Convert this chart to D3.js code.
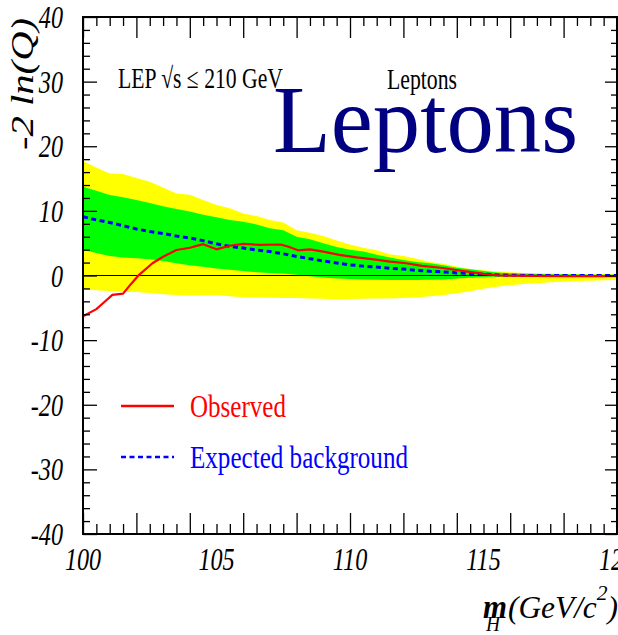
<!DOCTYPE html>
<html>
<head>
<meta charset="utf-8">
<script src="https://cdn.jsdelivr.net/npm/d3@7/dist/d3.min.js"></script>
<style>
  body { margin: 0; background: #fff; }
  svg { display: block; overflow: hidden; }
  text { font-family: "Liberation Serif", "Times New Roman", serif; }
</style>
</head>
<body>
<svg id="chart" width="618" height="635"></svg>
<script>
(function () {
  // mass points for the bands and the expected curve (GeV)
  var masses = [100, 100.5, 101, 101.5, 102, 102.5, 103, 103.5, 104, 104.5,
    105, 105.5, 106, 106.5, 107, 107.5, 108, 108.5, 109, 109.5,
    110, 110.5, 111, 111.5, 112, 112.5, 113, 113.5, 114, 114.5,
    115, 115.5, 116, 116.5, 117, 117.5, 118, 118.5, 119, 119.5, 120];

  var band2Hi = [17.7, 16.7, 15.8, 15.7, 15.1, 14.5, 13.6, 12.7, 12.5, 11.7,
    10.9, 10.4, 9.6, 9.2, 8.6, 8.2, 7.0, 6.6, 6.1, 5.4,
    4.8, 4.3, 3.9, 3.3, 3.0, 2.6, 2.1, 1.8, 1.4, 1.0,
    0.8, 0.6, 0.5, 0.4, 0.35, 0.3, 0.25, 0.25, 0.25, 0.25, 0.25];
  var band1Hi = [13.75, 13.1, 12.45, 12.1, 11.7, 11.2, 10.7, 10.3, 9.9, 9.4,
    9.0, 8.6, 8.3, 7.9, 7.3, 7.0, 6.0, 5.6, 5.0, 4.4,
    4.0, 3.7, 3.2, 2.8, 2.4, 2.1, 1.9, 1.6, 1.2, 0.95,
    0.7, 0.45, 0.35, 0.3, 0.25, 0.2, 0.2, 0.15, 0.1, 0.1, 0.1];
  var band1Lo = [3.95, 3.5, 3.0, 2.8, 2.65, 2.5, 2.25, 1.9, 1.6, 1.35,
    1.1, 0.9, 0.7, 0.5, 0.4, 0.3, 0.1, -0.1, -0.3, -0.45,
    -0.55, -0.6, -0.65, -0.7, -0.7, -0.7, -0.65, -0.6, -0.45, -0.35,
    -0.25, -0.2, -0.15, -0.1, -0.1, -0.1, -0.1, -0.1, -0.1, -0.1, -0.1];
  var band2Lo = [-2.15, -2.3, -2.4, -2.5, -2.55, -2.7, -2.9, -3.0, -3.1, -3.05,
    -3.0, -3.2, -3.35, -3.4, -3.45, -3.5, -3.5, -3.55, -3.6, -3.7,
    -3.65, -3.6, -3.55, -3.55, -3.5, -3.4, -3.2, -3.0, -2.75, -2.45,
    -2.05, -1.75, -1.5, -1.3, -1.2, -1.05, -0.95, -0.85, -0.8, -0.75, -0.7];
  var expected = [9.1, 8.6, 8.2, 7.7, 7.2, 6.8, 6.5, 6.1, 5.8, 5.4,
    4.9, 4.5, 4.25, 3.95, 3.7, 3.35, 2.95, 2.6, 2.25, 1.95,
    1.65, 1.45, 1.3, 1.1, 1.0, 0.8, 0.65, 0.55, 0.4, 0.3,
    0.2, 0.1, 0.05, 0.0, 0.0, 0.0, 0.0, 0.0, 0.0, 0.0, 0.0];

  var obsMasses = [100, 100.5, 100.8, 101.1, 101.5, 101.8, 102.1, 102.6, 103.0, 103.5,
    104.0, 104.5, 105.0, 105.5, 106.0, 106.6, 107.4, 107.7, 108.05, 108.5,
    109.0, 109.6, 110.25, 110.9, 111.5, 112.1, 112.7, 113.4, 114.4, 115.0,
    115.6, 116.9, 118.1, 120];
  var observed = [-6.3, -5.2, -4.1, -3.0, -2.8, -1.3, 0.1, 1.9, 2.9, 3.95,
    4.3, 4.85, 4.05, 4.6, 4.9, 4.75, 4.8, 4.45, 3.9, 4.05,
    3.7, 3.2, 2.8, 2.5, 2.15, 1.9, 1.5, 1.2, 0.6, 0.25,
    0.0, -0.05, -0.1, -0.1];

  var yTickLabels = [40, 30, 20, 10, 0, -10, -20, -30, -40];
  var xTickLabels = [100, 105, 110, 115, 120];
  var yMajor = [40, 30, 20, 10, 0, -10, -20, -30, -40];
  var yMinor = [38, 36, 34, 32, 28, 26, 24, 22, 18, 16, 14, 12, 8, 6, 4, 2,
    -2, -4, -6, -8, -12, -14, -16, -18, -22, -24, -26, -28, -32, -34, -36, -38];
  var xMajor = [100, 102, 104, 106, 108, 110, 112, 114, 116, 118, 120];
  var xMinor = [100.5, 101, 101.5, 102.5, 103, 103.5, 104.5, 105, 105.5,
    106.5, 107, 107.5, 108.5, 109, 109.5, 110.5, 111, 111.5, 112.5, 113, 113.5,
    114.5, 115, 115.5, 116.5, 117, 117.5, 118.5, 119, 119.5];

  var legendItems = [
    {label: 'Observed', color: '#ff0000', dash: null, width: 96},
    {label: 'Expected background', color: '#0000ff', dash: '5,3.5', width: 218}
  ];

  var left = 83, right = 617, top = 17, bottom = 534;
  var svg = d3.select('#chart');

  var x = d3.scaleLinear().domain([100, 120]).range([left, right]);
  var y = d3.scaleLinear().domain([-40, 40]).range([bottom, top]);

  var rows = masses.map(function (m, i) {
    return {m: m, h2: band2Hi[i], h1: band1Hi[i], l1: band1Lo[i], l2: band2Lo[i], e: expected[i]};
  });

  var bandArea = function (lo, hi) {
    return d3.area()
        .x(function (d) { return x(d.m); })
        .y0(function (d) { return y(d[lo]); })
        .y1(function (d) { return y(d[hi]); });
  };

  var plot = svg.append('g');
  plot.append('path').datum(rows)
      .attr('fill', '#ffff00')
      .attr('d', bandArea('l2', 'h2'));
  plot.append('path').datum(rows)
      .attr('fill', '#00ff00')
      .attr('d', bandArea('l1', 'h1'));

  // zero line
  plot.append('line')
      .attr('x1', x(100)).attr('x2', x(120))
      .attr('y1', y(0)).attr('y2', y(0))
      .attr('stroke', '#000').attr('stroke-width', 1.2);

  plot.append('path').datum(rows)
      .attr('fill', 'none')
      .attr('stroke', '#0000ff')
      .attr('stroke-width', 3)
      .attr('stroke-dasharray', '5,3.5')
      .attr('d', d3.line()
          .x(function (d) { return x(d.m); })
          .y(function (d) { return y(d.e); }));

  var obsRows = obsMasses.map(function (m, i) { return {m: m, v: observed[i]}; });
  plot.append('path').datum(obsRows)
      .attr('fill', 'none')
      .attr('stroke', '#ff0000')
      .attr('stroke-width', 2.2)
      .attr('stroke-linejoin', 'round')
      .attr('d', d3.line()
          .x(function (d) { return x(d.m); })
          .y(function (d) { return y(d.v); }));

  // ticks, all pointing inwards
  var drawAxis = function (axis, tx, ty) {
    var g = svg.append('g')
        .attr('transform', 'translate(' + tx + ',' + ty + ')')
        .call(axis);
    g.select('.domain').remove();
    g.selectAll('line').attr('stroke', '#000').attr('stroke-width', 1.3);
    g.selectAll('text').remove();
  };

  drawAxis(d3.axisBottom(x).tickValues(xMajor).tickSize(-21).tickFormat(''), 0, bottom);
  drawAxis(d3.axisBottom(x).tickValues(xMinor).tickSize(-10).tickFormat(''), 0, bottom);
  drawAxis(d3.axisTop(x).tickValues(xMajor).tickSize(-21).tickFormat(''), 0, top);
  drawAxis(d3.axisTop(x).tickValues(xMinor).tickSize(-9).tickFormat(''), 0, top);
  drawAxis(d3.axisLeft(y).tickValues(yMajor).tickSize(-14).tickFormat(''), left, 0);
  drawAxis(d3.axisLeft(y).tickValues(yMinor).tickSize(-7).tickFormat(''), left, 0);
  drawAxis(d3.axisRight(y).tickValues(yMajor).tickSize(-12).tickFormat(''), right, 0);
  drawAxis(d3.axisRight(y).tickValues(yMinor).tickSize(-6).tickFormat(''), right, 0);

  // frame
  svg.append('rect')
      .attr('x', left).attr('y', top)
      .attr('width', right - left).attr('height', bottom - top)
      .attr('fill', 'none').attr('stroke', '#000').attr('stroke-width', 2);

  // tick labels (the original is squeezed horizontally)
  svg.append('g').selectAll('text').data(yTickLabels).enter().append('text')
      .attr('transform', function (d) { return 'translate(63,' + (y(d) + 11) + ') scale(0.78,1)'; })
      .attr('text-anchor', 'end')
      .attr('font-style', 'italic')
      .attr('font-size', 31)
      .text(function (d) { return d; });

  svg.append('g').selectAll('text').data(xTickLabels).enter().append('text')
      .attr('transform', function (d) { return 'translate(' + x(d) + ',570) scale(0.78,1)'; })
      .attr('text-anchor', 'middle')
      .attr('font-style', 'italic')
      .attr('font-size', 31)
      .text(function (d) { return d; });

  // axis titles
  svg.append('text')
      .attr('transform', 'translate(33,150) rotate(-90)')
      .attr('font-style', 'italic')
      .attr('font-size', 32)
      .attr('textLength', 132)
      .attr('lengthAdjust', 'spacingAndGlyphs')
      .text('-2 ln(Q)');

  svg.append('text')
      .attr('x', 483).attr('y', 618)
      .attr('font-style', 'italic').attr('font-weight', 'bold')
      .attr('font-size', 34)
      .attr('textLength', 24)
      .attr('lengthAdjust', 'spacingAndGlyphs')
      .text('m');
  svg.append('text')
      .attr('x', 486).attr('y', 631)
      .attr('font-style', 'italic')
      .attr('font-size', 22)
      .attr('textLength', 14)
      .attr('lengthAdjust', 'spacingAndGlyphs')
      .text('H');
  var unit = svg.append('text')
      .attr('transform', 'translate(508,618) scale(0.98,1)')
      .attr('font-style', 'italic')
      .attr('font-size', 32);
  unit.append('tspan').text('(GeV/c');
  unit.append('tspan').attr('font-size', 22).attr('dy', -18).text('2');
  unit.append('tspan').attr('dy', 18).text(')');

  // labels inside the frame
  svg.append('text')
      .attr('x', 118).attr('y', 88)
      .attr('font-size', 29)
      .attr('textLength', 165)
      .attr('lengthAdjust', 'spacingAndGlyphs')
      .text('LEP \u221As \u2264 210 GeV');
  svg.append('text')
      .attr('x', 387).attr('y', 89)
      .attr('font-size', 29)
      .attr('textLength', 70)
      .attr('lengthAdjust', 'spacingAndGlyphs')
      .text('Leptons');
  svg.append('text')
      .attr('x', 273).attr('y', 152)
      .attr('font-size', 96)
      .attr('fill', '#000080')
      .attr('textLength', 305)
      .attr('lengthAdjust', 'spacingAndGlyphs')
      .text('Leptons');

  // legend
  var legend = svg.append('g').selectAll('g').data(legendItems).enter().append('g')
      .attr('transform', function (d, i) { return 'translate(0,' + (i * 51) + ')'; });
  legend.append('line')
      .attr('x1', 121).attr('x2', 174)
      .attr('y1', 406).attr('y2', 406)
      .attr('stroke', function (d) { return d.color; })
      .attr('stroke-width', 2.5)
      .attr('stroke-dasharray', function (d) { return d.dash; });
  legend.append('text')
      .attr('x', 190).attr('y', 417)
      .attr('font-size', 31)
      .attr('fill', function (d) { return d.color; })
      .attr('textLength', function (d) { return d.width; })
      .attr('lengthAdjust', 'spacingAndGlyphs')
      .text(function (d) { return d.label; });
})();
</script>
</body>
</html>
